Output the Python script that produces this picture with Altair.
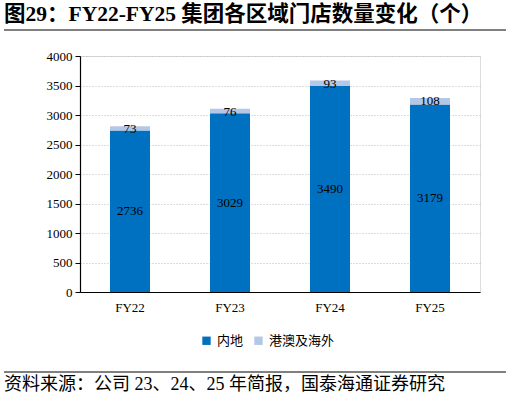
import altair as alt
import pandas as pd

years = ["FY22", "FY23", "FY24", "FY25"]
mainland = [2736, 3029, 3490, 3179]
overseas = [73, 76, 93, 108]
series = ["内地", "港澳及海外"]
colors = ["#0070C0", "#B4C7E7"]
yticks = [0, 500, 1000, 1500, 2000, 2500, 3000, 3500, 4000]

rows = []
for y, m, o in zip(years, mainland, overseas):
    rows.append({"year": y, "series": series[0], "value": m, "ord": 0})
    rows.append({"year": y, "series": series[1], "value": o, "ord": 1})
df = pd.DataFrame(rows)
df_tot = pd.DataFrame({"year": years, "mainland": mainland, "overseas": overseas,
                       "top": [m + o for m, o in zip(mainland, overseas)],
                       "mid": [m / 2 for m in mainland]})

SERIF = "Liberation Serif, Noto Sans CJK SC"

xscale = alt.Scale(domain=years, paddingInner=0.6, paddingOuter=0.3)
yscale = alt.Scale(domain=[0, 4000], nice=False)
xaxis = alt.Axis(labelAngle=0, ticks=False, domainColor="black", domainWidth=1.2,
                 labelFont=SERIF, labelFontSize=13, labelFontWeight="normal",
                 labelColor="black", labelPadding=9, title=None)
yaxis = alt.Axis(values=yticks, format="d", labelOverlap=False,
                 labelFlush=False, grid=True, gridDash=[1, 2],
                 gridColor="#BBBBBB", domainColor="black", domainWidth=1.2,
                 tickColor="black", tickSize=5, labelFont=SERIF, labelFontSize=13,
                 labelColor="black", labelPadding=3, title=None)

bars = alt.Chart(df).mark_bar(size=40).encode(
    x=alt.X("year:N", sort=years, title=None, scale=xscale, axis=xaxis),
    y=alt.Y("value:Q", stack="zero", title=None, scale=yscale, axis=yaxis),
    color=alt.Color("series:N", sort=series,
                    scale=alt.Scale(domain=series, range=colors),
                    legend=alt.Legend(title=None, orient="none", direction="horizontal",
                                      legendX=120, legendY=278, symbolType="square",
                                      symbolSize=70, symbolStrokeWidth=0,
                                      labelFont=SERIF, labelFontSize=13, labelColor="black",
                                      columnPadding=8, labelOffset=4)),
    order=alt.Order("ord:Q"),
)

t_main = alt.Chart(df_tot).mark_text(font=SERIF, fontSize=13, color="black", baseline="middle").encode(
    x=alt.X("year:N", sort=years, title=None, scale=xscale, axis=xaxis),
    y=alt.Y("mid:Q", title=None, scale=yscale, axis=yaxis),
    text=alt.Text("mainland:Q"))
t_over = alt.Chart(df_tot).mark_text(font=SERIF, fontSize=13, color="black", baseline="middle", dy=3).encode(
    x=alt.X("year:N", sort=years, title=None, scale=xscale, axis=xaxis),
    y=alt.Y("top:Q", title=None, scale=yscale, axis=yaxis),
    text=alt.Text("overseas:Q"))

one = pd.DataFrame({"a": [0]})
title = alt.Chart(one).mark_text(font=SERIF, fontSize=21.5, fontWeight="bold", color="black",
                                 align="left", baseline="middle").encode(
    x=alt.value(-76), y=alt.value(-41), text=alt.value("图29：FY22-FY25 集团各区域门店数量变化（个）"))
line1 = alt.Chart(one).mark_rule(color="black", strokeWidth=1).encode(
    x=alt.value(-76), x2=alt.value(426), y=alt.value(-26))
line2 = alt.Chart(one).mark_rule(color="black", strokeWidth=1).encode(
    x=alt.value(-76), x2=alt.value(426), y=alt.value(316))
source = alt.Chart(one).mark_text(font=SERIF, fontSize=18, color="black",
                                  align="left", baseline="middle").encode(
    x=alt.value(-76), y=alt.value(329), text=alt.value("资料来源：公司 23、24、25 年简报，国泰海通证券研究"))

chart = alt.layer(bars, t_main, t_over, title, line1, line2, source).properties(
    width=400, height=236,
    autosize=alt.AutoSizeParams(type="none"),
    padding={"left": 80, "top": 56, "right": 30, "bottom": 106},
).configure_view(stroke=None).configure(background="white")

chart.save("out.html", embed_options={"renderer": "svg", "actions": False})
